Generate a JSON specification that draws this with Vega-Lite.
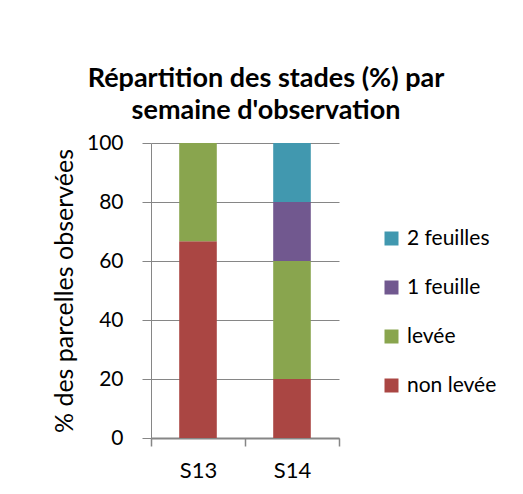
{
  "$schema": "https://vega.github.io/schema/vega-lite/v6.json",
  "width": 188,
  "height": 295,
  "autosize": {"type": "none"},
  "padding": {"left": 151, "top": 143, "right": 184, "bottom": 56},
  "background": "white",
  "title": {
    "text": ["Répartition des stades (%) par", "semaine d'observation"],
    "font": "Lato",
    "fontSize": 27,
    "fontWeight": "bold",
    "color": "#000000",
    "anchor": "middle",
    "dx": 21,
    "lineHeight": 32,
    "offset": 7
  },
  "data": {
    "values": [
      {"semaine": "S13", "stade": "non levée", "ord": 1, "pct": 66.7},
      {"semaine": "S13", "stade": "levée", "ord": 2, "pct": 33.3},
      {"semaine": "S14", "stade": "non levée", "ord": 1, "pct": 20},
      {"semaine": "S14", "stade": "levée", "ord": 2, "pct": 40},
      {"semaine": "S14", "stade": "1 feuille", "ord": 3, "pct": 20},
      {"semaine": "S14", "stade": "2 feuilles", "ord": 4, "pct": 20}
    ]
  },
  "mark": {"type": "bar", "width": {"band": 0.4}},
  "encoding": {
    "x": {
      "field": "semaine",
      "type": "nominal",
      "scale": {"paddingInner": 0, "paddingOuter": 0},
      "axis": {
        "title": null,
        "labelAngle": 0,
        "ticks": true,
        "tickBand": "extent",
        "tickSize": 8,
        "tickWidth": 1.5,
        "tickColor": "#868686",
        "domainColor": "#868686",
        "domainWidth": 2,
        "labelFont": "Lato",
        "labelFontSize": 22,
        "labelColor": "#000000",
        "labelPadding": 14
      }
    },
    "y": {
      "field": "pct",
      "type": "quantitative",
      "stack": "zero",
      "scale": {"domain": [0, 100], "nice": false},
      "axis": {
        "title": "% des parcelles observées",
        "titleFont": "Lato",
        "titleFontSize": 25,
        "titleFontWeight": "normal",
        "titleColor": "#000000",
        "titlePadding": 9,
        "values": [0, 20, 40, 60, 80, 100],
        "grid": true,
        "gridColor": "#868686",
        "gridWidth": 1,
        "domainColor": "#868686",
        "tickColor": "#868686",
        "tickSize": 9,
        "labelFont": "Lato",
        "labelFontSize": 21,
        "labelColor": "#000000",
        "labelPadding": 19
      }
    },
    "color": {
      "field": "stade",
      "type": "nominal",
      "scale": {
        "domain": ["2 feuilles", "1 feuille", "levée", "non levée"],
        "range": ["#4198AF", "#71588F", "#89A54E", "#AA4643"]
      },
      "legend": {
        "title": null,
        "orient": "none",
        "legendX": 230,
        "legendY": 85,
        "symbolType": "square",
        "symbolSize": 196,
        "symbolStrokeWidth": 0,
        "labelFont": "Lato",
        "labelFontSize": 21,
        "labelColor": "#000000",
        "labelOffset": 5,
        "rowPadding": 27
      }
    },
    "order": {"field": "ord", "type": "quantitative"}
  },
  "config": {"view": {"stroke": null}}
}
